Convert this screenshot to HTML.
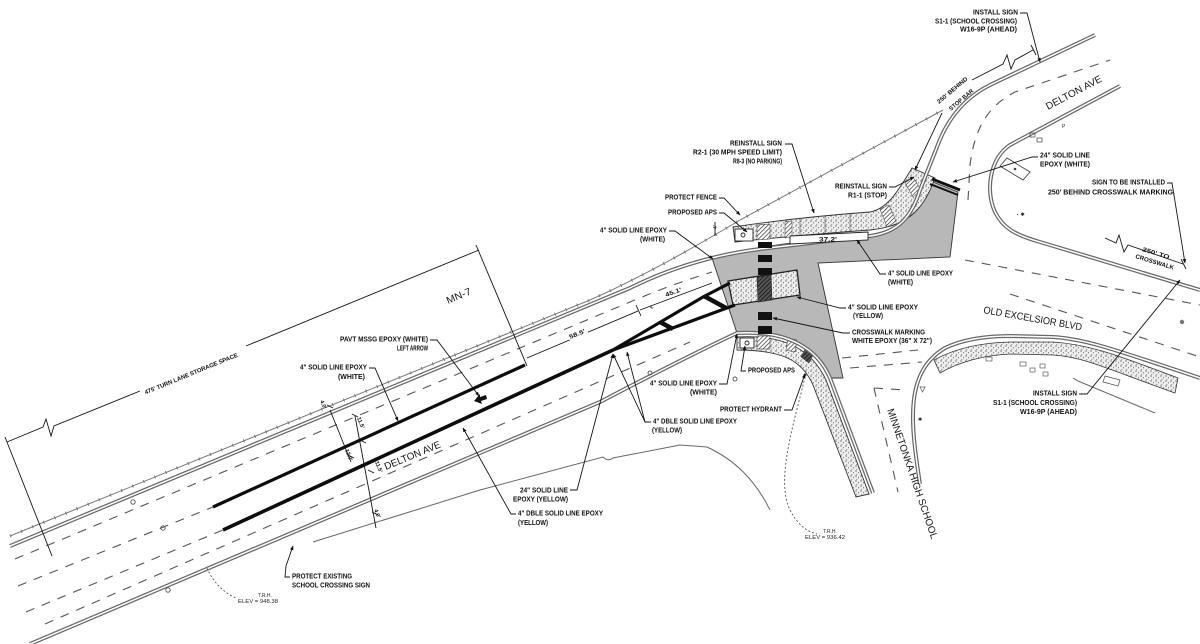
<!DOCTYPE html>
<html>
<head>
<meta charset="utf-8">
<style>
html,body{margin:0;padding:0;background:#fff}
svg{display:block}
.l{font-family:"Liberation Sans",sans-serif;font-weight:bold;font-size:7px;fill:#111}
.s{font-family:"Liberation Sans",sans-serif;font-size:5px;fill:#222}
.d{font-family:"Liberation Sans",sans-serif;font-weight:bold;font-size:6px;fill:#111}
.big{font-family:"Liberation Sans",sans-serif;font-size:10px;fill:#151515}
.ld{fill:none;stroke:#151515;stroke-width:0.9}
.curb{fill:none;stroke:#686868;stroke-width:4}
.curbi{fill:none;stroke:#fff;stroke-width:1.5}
.dash{fill:none;stroke:#555;stroke-width:1.1;stroke-dasharray:9 8}
.hv{fill:none;stroke:#0d0d0d;stroke-width:3.2;stroke-linecap:butt}
.thin{fill:none;stroke:#666;stroke-width:1}
</style>
</head>
<body>
<svg width="1200" height="644" viewBox="0 0 1200 644" xmlns="http://www.w3.org/2000/svg">
<defs>
<pattern id="stip" width="5" height="5" patternUnits="userSpaceOnUse">
<rect width="5" height="5" fill="#eeeeee"/>
<circle cx="1" cy="1" r="0.6" fill="#333"/>
<circle cx="3.5" cy="2.8" r="0.55" fill="#555"/>
<circle cx="1.8" cy="4.3" r="0.45" fill="#444"/>
</pattern>
<pattern id="hatch" width="3" height="3" patternUnits="userSpaceOnUse" patternTransform="rotate(45)">
<rect width="3" height="3" fill="#fff"/>
<line x1="0" y1="0" x2="0" y2="3" stroke="#222" stroke-width="1.3"/>
</pattern>
<pattern id="dhatch" width="3" height="3" patternUnits="userSpaceOnUse" patternTransform="rotate(45)">
<rect width="3" height="3" fill="#555"/>
<line x1="0" y1="0" x2="0" y2="3" stroke="#111" stroke-width="1.5"/>
</pattern>
<marker id="ah" viewBox="0 0 10 10" refX="9" refY="5" markerWidth="5" markerHeight="5" orient="auto">
<path d="M0,1 L10,5 L0,9 z" fill="#111"/>
</marker>
</defs>

<rect width="1200" height="644" fill="#fff"/>

<!-- gray new pavement -->
<path d="M712,258 Q726,254 740,251 Q800,240 870,236 C900,232 915,212 928,180 L958,192 L950,257 L818,263 L843,378 L830,378 C818,350 790,330 737,333 Z" fill="#b8b8b8" stroke="#333" stroke-width="0.9"/>

<!-- north sidewalk band -->
<path d="M733,227 Q800,217 870,212 C886,209 896,195 912,168 L935,178 C925,205 912,226 870,230 Q800,235 735,242 Z" fill="url(#stip)" stroke="#333" stroke-width="0.9"/>
<polygon points="757,225 770,224 770,239 757,240" fill="url(#hatch)" stroke="#333" stroke-width="0.5"/>
<polygon points="785,222 792,221 792,237 785,238" fill="url(#hatch)" stroke="#333" stroke-width="0.5"/>
<polygon points="880,209 889,205 896,221 887,227" fill="url(#hatch)" stroke="#333" stroke-width="0.5"/>
<polygon points="905,183 913,177 921,190 913,197" fill="url(#hatch)" stroke="#333" stroke-width="0.5"/>
<line x1="800" y1="219" x2="800" y2="235" stroke="#444" stroke-width="0.6"/>
<line x1="825" y1="216" x2="825" y2="233" stroke="#444" stroke-width="0.6"/>
<line x1="850" y1="214" x2="850" y2="232" stroke="#444" stroke-width="0.6"/>
<rect x="735" y="229" width="18" height="12" fill="#fff" stroke="#222" stroke-width="0.9"/>
<circle cx="743" cy="235" r="2" fill="none" stroke="#222" stroke-width="0.9"/>

<!-- south sidewalk band -->
<path d="M737,337 C785,334 812,350 826,380 L869,494 L856,497 L813,385 C802,360 782,350 737,350 Z" fill="url(#stip)" stroke="#333" stroke-width="0.9"/>
<polygon points="757,336 770,336 770,349 757,349" fill="url(#hatch)" stroke="#333" stroke-width="0.5"/>
<polygon points="788,338 797,340 795,352 786,350" fill="url(#hatch)" stroke="#333" stroke-width="0.5"/>
<polygon points="806,347 814,353 809,363 801,357" fill="url(#dhatch)" stroke="#333" stroke-width="0.5"/>
<rect x="740" y="338" width="14" height="10" fill="#fff" stroke="#222" stroke-width="0.9"/>
<circle cx="747" cy="343" r="2" fill="none" stroke="#222" stroke-width="0.9"/>

<!-- SE corner sidewalk band -->
<path d="M934,360 Q965,343 1010,342 L1053,342 C1085,344 1110,352 1178,378 L1175,393 C1110,370 1085,357 1053,355 L1010,354 Q970,356 940,373 Z" fill="url(#stip)" stroke="#333" stroke-width="0.8"/>

<!-- fence -->
<path d="M10,536 L590,300 C640,278 690,250 740,220 L943,110" fill="none" stroke="#777" stroke-width="1"/>
<path d="M10,536 L590,300 C640,278 690,250 740,220 L943,110" fill="none" stroke="#777" stroke-width="3.2" stroke-dasharray="1 11"/>

<!-- curbs (double lines) -->
<path class="curb" d="M10,546 L630,288 Q690,258 760,249 L870,236 C900,232 912,215 920,190 L937,147 C945,125 960,100 990,85 L1095,35"/>
<path class="curbi" d="M10,546 L630,288 Q690,258 760,249 L870,236 C900,232 912,215 920,190 L937,147 C945,125 960,100 990,85 L1095,35"/>
<path class="curb" d="M30,644 L600,402 Q680,360 737,333 C790,330 818,350 830,378 L873,493"/>
<path class="curbi" d="M30,644 L600,402 Q680,360 737,333 C790,330 818,350 830,378 L873,493"/>
<path class="curb" d="M1120,86 L1010,145 C990,158 985,190 995,212 C1003,228 1015,235 1040,242 L1200,290"/>
<path class="curbi" d="M1120,86 L1010,145 C990,158 985,190 995,212 C1003,228 1015,235 1040,242 L1200,290"/>
<path class="curb" d="M920,484 C910,420 905,372 945,348 Q970,336 1010,336 L1053,337 C1085,339 1110,348 1200,378"/>
<path class="curbi" d="M920,484 C910,420 905,372 945,348 Q970,336 1010,336 L1053,337 C1085,339 1110,348 1200,378"/>

<!-- dashed lane lines -->
<path class="dash" d="M15,559 L630,302 Q670,285 712,272"/>
<path class="dash" d="M18,586 L213,507"/>
<path class="dash" d="M26,612 L223,530"/>
<path class="dash" d="M45,624 L690,342"/>
<path class="dash" d="M968,200 L970,165 C975,125 990,105 1015,92 L1110,60"/>
<path class="dash" d="M965,260 L1200,305"/>
<path class="dash" d="M1010,294 L1200,357"/>
<path class="dash" d="M842,358 L918,350"/>
<path class="dash" d="M850,368 L922,362"/>
<path class="dash" d="M874,388 L898,492"/>
<path class="dash" d="M874,388 L905,390"/>
<polygon points="920,387 925,387 922.5,392" fill="none" stroke="#555" stroke-width="0.7"/>

<!-- ground outline -->
<path class="thin" d="M313,542 L480,490 L603,457 Q608,462 613,458 L680,445 L707,447 C735,460 755,480 770,510"/>
<!-- dotted curves -->
<path d="M805,377 C795,420 775,480 790,510 Q800,530 817,534" fill="none" stroke="#555" stroke-width="0.9" stroke-dasharray="2 2"/>
<path d="M207,568 C212,580 222,592 236,598" fill="none" stroke="#555" stroke-width="0.9" stroke-dasharray="2 2"/>

<!-- crosswalk median island -->
<polygon points="728,281 797,270 800,295 733,305" fill="url(#stip)" stroke="#222" stroke-width="1.3"/>
<polygon points="757,277 771,275 772,300 758,302" fill="url(#dhatch)" stroke="#222" stroke-width="0.6"/>

<!-- crosswalk bars -->
<rect x="758" y="242" width="14" height="6" fill="#111"/>
<rect x="758" y="255" width="14" height="7" fill="#111"/>
<rect x="758" y="268" width="14" height="7" fill="#111"/>
<rect x="758" y="312" width="14" height="8" fill="#111"/>
<rect x="758" y="326" width="14" height="8" fill="#111"/>

<!-- stop bar -->
<line x1="932" y1="179" x2="960" y2="190" stroke="#111" stroke-width="3"/>
<line x1="930" y1="184" x2="958" y2="195" stroke="#111" stroke-width="2"/>

<!-- heavy epoxy lines -->
<path class="hv" d="M213,507 L525,365"/>
<path class="hv" d="M223,530 L613,350" style="stroke-width:3.6"/>
<path class="hv" d="M613,350 L703,297 L730,283"/>
<path class="hv" d="M613,350 L735,305"/>
<path d="M660,322 L673,329" stroke="#111" stroke-width="4.5" fill="none"/>
<path d="M704,296 L726,308" stroke="#111" stroke-width="4.5" fill="none"/>
<!-- left arrow -->
<path d="M474,401 L480,394 L480,397 L486,395 L487,399 L481,401 L482,404 Z" fill="#111"/>

<!-- 37.2' dim -->
<polygon points="790,236 868,232 868,240 790,244" fill="#fff" stroke="#222" stroke-width="0.9"/>
<text class="d" x="819" y="241.5" textLength="18" lengthAdjust="spacingAndGlyphs">37.2'</text>

<!-- 58.5 / 45.1 dims -->
<path class="ld" d="M527,358 L638,311"/>
<path class="ld" d="M640,310 L712,283"/>
<path class="ld" d="M636,305 L641,316"/>
<rect x="568" y="330" width="20" height="8" fill="#fff" transform="rotate(-22 578 334)"/>
<text class="d" transform="translate(570,339) rotate(-22)" textLength="17" lengthAdjust="spacingAndGlyphs">58.5'</text>
<rect x="664" y="288" width="20" height="8" fill="#fff" transform="rotate(-20 674 292)"/>
<text class="d" transform="translate(666,297) rotate(-20)" textLength="17" lengthAdjust="spacingAndGlyphs">45.1'</text>
<text class="s" transform="translate(651,309) rotate(-20)">&#8452;</text>
<text class="s" transform="translate(717,229) rotate(-90)">4'</text>
<path class="ld" d="M715,222 L715,236"/>

<!-- 475' dimension -->
<path class="ld" d="M5,437 L52,556"/>
<path class="ld" d="M476,245 L527,366"/>
<path class="ld" d="M7,442 L43,427 L46,419 L51,436 L54,426 L140,391"/>
<path class="ld" d="M246,346 L479,250"/>
<text class="d" transform="translate(145,393) rotate(-22.2)" x="0" y="1.5" textLength="100" lengthAdjust="spacingAndGlyphs">475' TURN LANE STORAGE SPACE</text>

<!-- perpendicular lane width dims -->
<path class="ld" d="M330,410 L351,462"/>
<path class="ld" d="M355,416 L376,528"/>
<path class="ld" d="M327,405 L333,408 M348,455 L354,458 M352,414 L358,417 M360,440 L366,443 M368,470 L374,473 M372,512 L378,515"/>
<text class="d" transform="translate(320,401) rotate(68)" style="font-size:5.5px">4.0'</text>
<text class="d" transform="translate(357,418) rotate(68)" style="font-size:5.5px">11.5'</text>
<text class="d" transform="translate(345,450) rotate(68)" style="font-size:5.5px">12.0'</text>
<text class="d" transform="translate(375,462) rotate(68)" style="font-size:5.5px">11.5'</text>
<text class="d" transform="translate(374,510) rotate(68)" style="font-size:5.5px">4.0'</text>

<!-- small symbols -->
<circle cx="133" cy="502" r="2.2" fill="none" stroke="#555" stroke-width="0.9"/>
<circle cx="163" cy="528" r="2.2" fill="none" stroke="#555" stroke-width="0.9"/>
<circle cx="168" cy="590" r="2.2" fill="none" stroke="#555" stroke-width="0.9"/>
<circle cx="650" cy="373" r="2" fill="none" stroke="#555" stroke-width="0.9"/>
<circle cx="735" cy="379" r="2" fill="none" stroke="#555" stroke-width="0.9"/>
<circle cx="1182" cy="322" r="2.2" fill="#777"/>
<circle cx="805" cy="375" r="1.5" fill="#444"/>
<polygon points="1000,166 1007,158 1030,172 1023,180" fill="#fff" stroke="#444" stroke-width="0.9"/>
<circle cx="1015" cy="169" r="1.3" fill="#444"/>
<rect x="1030" y="133" width="5" height="4" fill="none" stroke="#444" stroke-width="0.7"/>
<rect x="1037" y="138" width="5" height="4" fill="none" stroke="#444" stroke-width="0.7"/>
<text class="s" x="1062" y="128">P</text>
<text class="s" x="1016" y="216">&#8902; &#10033;</text>
<text class="s" x="918" y="421">&#10033;</text>
<rect x="986" y="357" width="6" height="4" fill="none" stroke="#444" stroke-width="0.6"/>
<rect x="1020" y="362" width="6" height="4" fill="none" stroke="#444" stroke-width="0.6"/>
<rect x="1030" y="368" width="5" height="4" fill="none" stroke="#444" stroke-width="0.6"/>
<rect x="1040" y="364" width="5" height="4" fill="none" stroke="#444" stroke-width="0.6"/>
<rect x="1043" y="372" width="5" height="4" fill="none" stroke="#444" stroke-width="0.6"/>
<polygon points="1105,376 1120,380 1118,386 1103,382" fill="none" stroke="#444" stroke-width="0.7"/>
<path class="thin" d="M1073,378 L1078,381 L1155,413"/>

<!-- road names -->
<text class="big" transform="translate(386,470) rotate(-22.5)" textLength="60" lengthAdjust="spacingAndGlyphs">DELTON AVE</text>
<text class="big" transform="translate(1048,110) rotate(-28)" textLength="62" lengthAdjust="spacingAndGlyphs">DELTON AVE</text>
<text class="big" transform="translate(983,313) rotate(10)" textLength="100" lengthAdjust="spacingAndGlyphs">OLD EXCELSIOR BLVD</text>
<text class="big" transform="translate(887,410) rotate(71)" textLength="137" lengthAdjust="spacingAndGlyphs">MINNETONKA HIGH SCHOOL</text>
<text class="big" transform="translate(448,304) rotate(-23)" textLength="26" lengthAdjust="spacingAndGlyphs">MN-7</text>

<!-- leaders -->
<path class="ld" marker-end="url(#ah)" d="M1020,13 L1027,13 L1040,62"/>
<path class="ld" marker-end="url(#ah)" d="M942,113 L915,170"/>
<path class="ld" d="M972,80 L1003,64 L1007,55 L1011,69 L1015,60 L1033,50"/>
<path class="ld" d="M1031,45 L1036,55"/>
<path class="ld" marker-end="url(#ah)" d="M785,144 L792,144 L814,213"/>
<path class="ld" marker-end="url(#ah)" d="M719,198 L724,198 L740,215"/>
<path class="ld" marker-end="url(#ah)" d="M719,213 L724,213 L747,232"/>
<path class="ld" marker-end="url(#ah)" d="M669,231 L675,231 L713,259"/>
<path class="ld" marker-end="url(#ah)" d="M889,187 L895,187 L914,177"/>
<path class="ld" marker-end="url(#ah)" d="M1038,157 L1032,157 L953,182"/>
<path class="ld" marker-end="url(#ah)" d="M886,274 L880,274 L857,240"/>
<path class="ld" marker-end="url(#ah)" d="M1167,183 L1172,183 L1185,263"/>
<path class="ld" d="M1105,238 L1116,243 L1119,235 L1124,252 L1128,245 L1183,264"/>
<path class="ld" d="M1181,259 L1186,269"/>
<path class="ld" marker-end="url(#ah)" d="M846,308 L840,308 L797,297"/>
<path class="ld" marker-end="url(#ah)" d="M850,333 L843,333 L773,318"/>
<path class="ld" marker-end="url(#ah)" d="M1079,394 L1087,394 L1180,280"/>
<path class="ld" marker-end="url(#ah)" d="M719,384 L727,384 L737,334"/>
<path class="ld" marker-end="url(#ah)" d="M746,371 L741,371 L745,346"/>
<path class="ld" marker-end="url(#ah)" d="M784,410 L792,410 L805,374"/>
<path class="ld" marker-end="url(#ah)" d="M651,422 L645,422 L613,354"/>
<path class="ld" marker-end="url(#ah)" d="M645,422 L627,352"/>
<path class="ld" marker-end="url(#ah)" d="M570,490 L577,490 L613,354"/>
<path class="ld" marker-end="url(#ah)" d="M516,514 L511,514 L463,428"/>
<path class="ld" marker-end="url(#ah)" d="M430,340 L437,340 L479,396"/>
<path class="ld" marker-end="url(#ah)" d="M369,368 L375,368 L398,421"/>
<path class="ld" marker-end="url(#ah)" d="M290,577 L285,577 L286,566 L293,546"/>

<!-- labels -->
<text class="l" x="973" y="14.5" textLength="45" lengthAdjust="spacingAndGlyphs">INSTALL SIGN</text>
<text class="l" x="935" y="23.5" textLength="82" lengthAdjust="spacingAndGlyphs">S1-1 (SCHOOL CROSSING)</text>
<text class="l" x="960" y="31.5" textLength="57" lengthAdjust="spacingAndGlyphs">W16-9P (AHEAD)</text>

<text class="d" transform="translate(939,104) rotate(-40)" textLength="38" lengthAdjust="spacingAndGlyphs">250' BEHIND</text>
<text class="d" transform="translate(951,111) rotate(-40)" textLength="30" lengthAdjust="spacingAndGlyphs">STOP BAR</text>

<text class="l" x="730" y="145.5" textLength="52" lengthAdjust="spacingAndGlyphs">REINSTALL SIGN</text>
<text class="l" x="693" y="154.5" textLength="89" lengthAdjust="spacingAndGlyphs">R2-1 (30 MPH SPEED LIMIT)</text>
<text class="l" x="733" y="163.5" textLength="49" lengthAdjust="spacingAndGlyphs">R8-3 (NO PARKING)</text>

<text class="l" x="665" y="199.5" textLength="52" lengthAdjust="spacingAndGlyphs">PROTECT FENCE</text>
<text class="l" x="668" y="214.5" textLength="49" lengthAdjust="spacingAndGlyphs">PROPOSED APS</text>
<text class="l" x="600" y="232.5" textLength="67" lengthAdjust="spacingAndGlyphs">4" SOLID LINE EPOXY</text>
<text class="l" x="640" y="241.5" textLength="25" lengthAdjust="spacingAndGlyphs">(WHITE)</text>

<text class="l" x="835" y="188.5" textLength="52" lengthAdjust="spacingAndGlyphs">REINSTALL SIGN</text>
<text class="l" x="848" y="197.5" textLength="39" lengthAdjust="spacingAndGlyphs">R1-1 (STOP)</text>

<text class="l" x="1040" y="157.5" textLength="50" lengthAdjust="spacingAndGlyphs">24" SOLID LINE</text>
<text class="l" x="1040" y="166.5" textLength="50" lengthAdjust="spacingAndGlyphs">EPOXY (WHITE)</text>

<text class="l" x="888" y="275.5" textLength="65" lengthAdjust="spacingAndGlyphs">4" SOLID LINE EPOXY</text>
<text class="l" x="888" y="284.5" textLength="25" lengthAdjust="spacingAndGlyphs">(WHITE)</text>

<text class="l" x="1092" y="184.5" textLength="73" lengthAdjust="spacingAndGlyphs">SIGN TO BE INSTALLED</text>
<text class="l" x="1048" y="194.5" textLength="127" lengthAdjust="spacingAndGlyphs">250' BEHIND CROSSWALK MARKING.</text>

<text class="d" transform="translate(1142,251) rotate(17)" textLength="28" lengthAdjust="spacingAndGlyphs">250' TO</text>
<text class="d" transform="translate(1135,258) rotate(17)" textLength="40" lengthAdjust="spacingAndGlyphs">CROSSWALK</text>

<text class="l" x="848" y="309.5" textLength="70" lengthAdjust="spacingAndGlyphs">4" SOLID LINE EPOXY</text>
<text class="l" x="853" y="318" textLength="30" lengthAdjust="spacingAndGlyphs">(YELLOW)</text>

<text class="l" x="852" y="334.5" textLength="73" lengthAdjust="spacingAndGlyphs">CROSSWALK MARKING</text>
<text class="l" x="852" y="343" textLength="80" lengthAdjust="spacingAndGlyphs">WHITE EPOXY (36" X 72")</text>

<text class="l" x="1033" y="395.5" textLength="44" lengthAdjust="spacingAndGlyphs">INSTALL SIGN</text>
<text class="l" x="993" y="405" textLength="84" lengthAdjust="spacingAndGlyphs">S1-1 (SCHOOL CROSSING)</text>
<text class="l" x="1020" y="414" textLength="57" lengthAdjust="spacingAndGlyphs">W16-9P (AHEAD)</text>

<text class="l" x="650" y="385.5" textLength="67" lengthAdjust="spacingAndGlyphs">4" SOLID LINE EPOXY</text>
<text class="l" x="690" y="394.5" textLength="27" lengthAdjust="spacingAndGlyphs">(WHITE)</text>

<text class="l" x="748" y="372.5" textLength="47" lengthAdjust="spacingAndGlyphs">PROPOSED APS</text>
<text class="l" x="720" y="411.5" textLength="62" lengthAdjust="spacingAndGlyphs">PROTECT HYDRANT</text>

<text class="l" x="653" y="423.5" textLength="84" lengthAdjust="spacingAndGlyphs">4" DBLE SOLID LINE EPOXY</text>
<text class="l" x="652" y="432.5" textLength="30" lengthAdjust="spacingAndGlyphs">(YELLOW)</text>

<text class="l" x="520" y="492.5" textLength="48" lengthAdjust="spacingAndGlyphs">24" SOLID LINE</text>
<text class="l" x="513" y="501.5" textLength="55" lengthAdjust="spacingAndGlyphs">EPOXY (YELLOW)</text>

<text class="l" x="518" y="515.5" textLength="85" lengthAdjust="spacingAndGlyphs">4" DBLE SOLID LINE EPOXY</text>
<text class="l" x="518" y="525" textLength="30" lengthAdjust="spacingAndGlyphs">(YELLOW)</text>

<text class="l" x="340" y="341.5" textLength="88" lengthAdjust="spacingAndGlyphs">PAVT MSSG EPOXY (WHITE)</text>
<text class="l" x="397" y="350.5" textLength="31" lengthAdjust="spacingAndGlyphs">LEFT ARROW</text>

<text class="l" x="300" y="369.5" textLength="67" lengthAdjust="spacingAndGlyphs">4" SOLID LINE EPOXY</text>
<text class="l" x="338" y="379" textLength="27" lengthAdjust="spacingAndGlyphs">(WHITE)</text>

<text class="l" x="292" y="578.5" textLength="60" lengthAdjust="spacingAndGlyphs">PROTECT EXISTING</text>
<text class="l" x="292" y="587.5" textLength="78" lengthAdjust="spacingAndGlyphs">SCHOOL CROSSING SIGN</text>

<text class="s" x="258" y="597">T.R.H.</text>
<text class="s" x="238" y="603" textLength="40" lengthAdjust="spacingAndGlyphs">ELEV = 948.38</text>
<text class="s" x="823" y="533">T.R.H.</text>
<text class="s" x="805" y="539" textLength="40" lengthAdjust="spacingAndGlyphs">ELEV = 936.42</text>
</svg>
</body>
</html>
